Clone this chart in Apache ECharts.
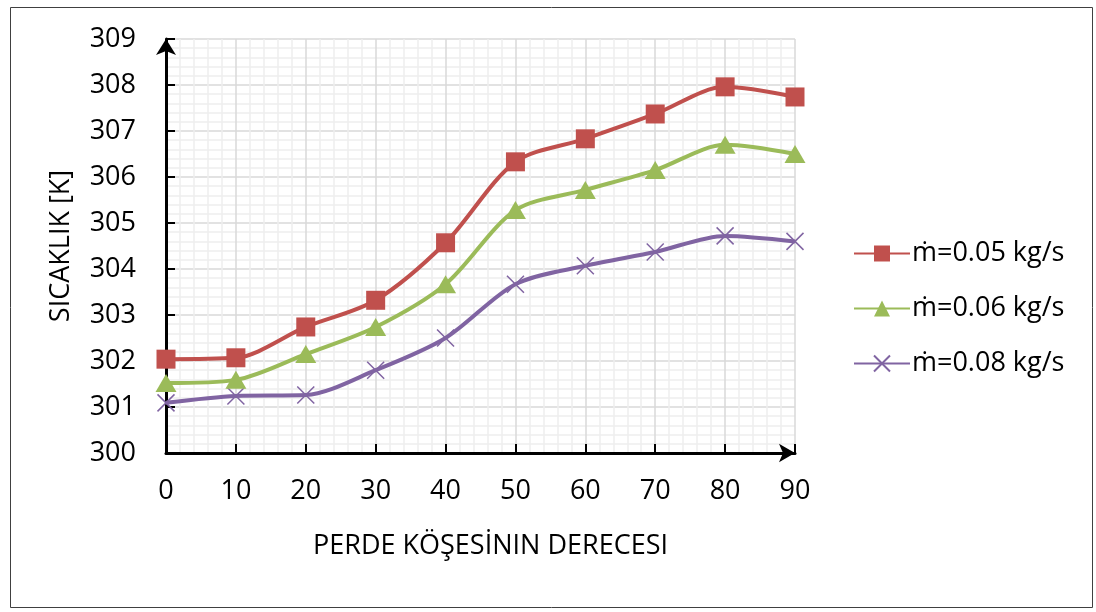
<!DOCTYPE html>
<html>
<head>
<meta charset="utf-8">
<script src="https://cdn.jsdelivr.net/npm/echarts@6/dist/echarts.min.js"></script>
<style>html,body{margin:0;padding:0;background:#fff}#c{width:1096px;height:612px}</style>
</head>
<body>
<div id="c"></div>
<script>
const angles = [0, 10, 20, 30, 40, 50, 60, 70, 80, 90];
const seriesNames = ['ṁ=0.05 kg/s', 'ṁ=0.06 kg/s', 'ṁ=0.08 kg/s'];
const temp005 = [302.04, 302.07, 302.74, 303.32, 304.57, 306.33, 306.83, 307.37, 307.96, 307.74];
const temp006 = [301.52, 301.59, 302.15, 302.74, 303.67, 305.28, 305.72, 306.15, 306.70, 306.50];
const temp008 = [301.09, 301.24, 301.26, 301.80, 302.50, 303.67, 304.07, 304.37, 304.72, 304.60];
const xTitle = 'PERDE KÖŞESİNIN DERECESI';
const yTitle = 'SICAKLIK [K]';

const font = 'Open Sans';
const colors = ['#C0504D', '#9BBB59', '#8064A2'];
const pair = (arr) => angles.map((a, i) => [a, arr[i]]);

const chart = echarts.init(document.getElementById('c'), null, {renderer: 'canvas'});
chart.setOption({
  animation: false,
  backgroundColor: '#fff',
  textStyle: {fontFamily: font, color: '#000'},
  graphic: [{
    type: 'rect', left: 8, top: 5, shape: {width: 1082, height: 600},
    style: {fill: 'none', stroke: '#404040', lineWidth: 1}, silent: true, z: -10
  }],
  grid: {left: 166, right: 301, top: 39, bottom: 159},
  legend: {
    orient: 'vertical', left: 848, top: 235, itemGap: 28,
    itemWidth: 56, itemHeight: 20,
    textStyle: {fontFamily: font, fontSize: 27, color: '#000', padding: [0, 0, 0, -3]},
    data: seriesNames
  },
  xAxis: {
    type: 'value', min: 0, max: 90, interval: 10,
    name: xTitle, nameLocation: 'middle', nameGap: 80,
    nameTextStyle: {fontFamily: font, fontSize: 27, color: '#000', padding: [0, 0, 0, 20]},
    axisLine: {show: true, onZero: false, lineStyle: {color: '#000', width: 3}, symbol: ['none', 'arrow'], symbolSize: [14, 16]},
    axisTick: {show: true, inside: true, length: 9, lineStyle: {color: '#000', width: 2}},
    axisLabel: {fontFamily: font, fontSize: 27, color: '#000', margin: 25},
    splitLine: {show: true, lineStyle: {color: '#d9d9d9', width: 1.5}},
    minorTick: {show: false, splitNumber: 5},
    minorSplitLine: {show: true, lineStyle: {color: '#eeeeee', width: 1.5}}
  },
  yAxis: {
    type: 'value', min: 300, max: 309, interval: 1,
    name: yTitle, nameLocation: 'middle', nameGap: 91, nameRotate: 90,
    nameTextStyle: {fontFamily: font, fontSize: 27, color: '#000'},
    axisLine: {show: true, lineStyle: {color: '#000', width: 3}, symbol: ['none', 'arrow'], symbolSize: [15, 16]},
    axisTick: {show: true, inside: true, length: 9, lineStyle: {color: '#000', width: 2}},
    axisLabel: {fontFamily: font, fontSize: 27, color: '#000', margin: 30},
    splitLine: {show: true, lineStyle: {color: '#d9d9d9', width: 1.5}},
    minorTick: {show: false, splitNumber: 5},
    minorSplitLine: {show: true, lineStyle: {color: '#eeeeee', width: 1.5}}
  },
  series: [
    {
      name: seriesNames[0], type: 'line', data: pair(temp005), smooth: 0.3,
      symbol: 'rect', symbolSize: 19,
      lineStyle: {color: colors[0], width: 4}, itemStyle: {color: colors[0]}, z: 5
    },
    {
      name: seriesNames[1], type: 'line', data: pair(temp006), smooth: 0.3,
      symbol: 'triangle', symbolSize: [21, 18],
      lineStyle: {color: colors[1], width: 4}, itemStyle: {color: colors[1]}, z: 4
    },
    {
      name: seriesNames[2], type: 'line', data: pair(temp008), smooth: 0.3,
      symbol: 'path://M0,0L10,10M10,0L0,10', symbolSize: 17,
      lineStyle: {color: colors[2], width: 4},
      itemStyle: {color: 'rgba(0,0,0,0)', borderColor: colors[2], borderWidth: 1.5}, z: 3
    }
  ]
});
</script>
</body>
</html>
